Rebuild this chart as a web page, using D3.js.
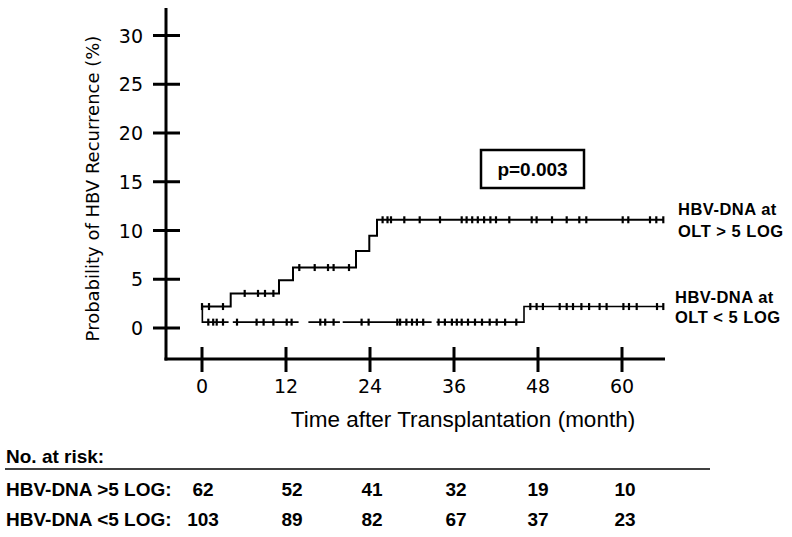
<!DOCTYPE html>
<html><head><meta charset="utf-8">
<script src="https://cdn.jsdelivr.net/npm/d3@7"></script>
<style>
html,body{margin:0;padding:0;background:#fff;}
svg{display:block;}
</style></head>
<body>
<svg id="chart" width="792" height="537"></svg>
<script>
// ---- data ----
const xTickValues = [0, 12, 24, 36, 48, 60];
const yTickValues = [0, 5, 10, 15, 20, 25, 30];

// HBV-DNA at OLT > 5 LOG : step curve (time in months, recurrence %)
const highTimes  = [0, 4.1, 11.0, 13.0, 22.0, 23.9, 25.0, 66.0];
const highValues = [2.2, 3.55, 4.9, 6.2, 7.9, 9.45, 11.1, 11.1];
const highCensor = [0, 1.0, 3.0, 6.1, 8.0, 9.0, 10.2, 13.9, 16.1, 18.0, 18.8, 21.0,
  25.8, 26.5, 27.0, 28.9, 31.1, 34.0, 37.1, 37.8, 38.6, 39.4, 40.3, 41.2, 42.0,
  43.9, 47.1, 47.8, 50.0, 52.1, 53.9, 54.9, 60.1, 60.9, 64.0, 64.9, 65.9];

// HBV-DNA at OLT < 5 LOG
const lowTimes  = [0, 0.05, 46.0, 66.0];
const lowValues = [2.2, 0.6, 2.2, 2.2];
const lowCensor = [0.9, 1.6, 2.1, 3.0, 5.0, 7.8, 8.8, 10.2, 12.1, 12.8, 16.9, 17.6,
  18.8, 22.8, 23.8, 27.9, 28.3, 29.2, 30.0, 30.7, 31.6, 33.8, 34.7, 35.7, 36.4,
  37.1, 38.0, 39.0, 40.0, 41.1, 42.1, 43.3, 44.9, 46.9, 47.8, 48.7, 51.1, 52.1,
  53.0, 54.2, 55.3, 56.8, 57.8, 60.2, 61.0, 62.1, 65.0, 65.9];
// small breaks visible in the drawn line (months)
const lowGaps = [[3.8, 4.4], [13.8, 15.2], [19.7, 20.1], [32.8, 33.5]];

const seriesLabels = [["HBV-DNA at", "OLT > 5 LOG"], ["HBV-DNA at", "OLT < 5 LOG"]];
const pValueText = "p=0.003";

const riskTitle = "No. at risk:";
const riskRowLabels = ["HBV-DNA >5 LOG:", "HBV-DNA <5 LOG:"];
const riskHigh = [62, 52, 41, 32, 19, 10];
const riskLow  = [103, 89, 82, 67, 37, 23];

const xTitle = "Time after Transplantation (month)";
const yTitle = "Probability of HBV Recurrence (%)";

// ---- drawing ----
const svg = d3.select("#chart");
const x = d3.scaleLinear().domain([0, 60]).range([202, 622]);
const y = d3.scaleLinear().domain([0, 30]).range([328, 35.5]);

const axisX0 = 166, axisYb = 359;
const tickFont = "'DejaVu Sans', Verdana, sans-serif";
const arial = "'Liberation Sans', Arial, sans-serif";

// y axis line
svg.append("line").attr("x1", axisX0).attr("x2", axisX0).attr("y1", 8).attr("y2", axisYb + 1.5)
  .attr("stroke", "#000").attr("stroke-width", 3);
// x axis line
svg.append("line").attr("x1", axisX0 - 1.5).attr("x2", 665).attr("y1", axisYb).attr("y2", axisYb)
  .attr("stroke", "#000").attr("stroke-width", 3);

// y ticks
const yt = svg.append("g");
yTickValues.forEach(v => {
  yt.append("line").attr("x1", 153).attr("x2", 180).attr("y1", y(v)).attr("y2", y(v))
    .attr("stroke", "#000").attr("stroke-width", 3);
  yt.append("text").attr("x", 143).attr("y", y(v) + 7).attr("text-anchor", "end")
    .attr("font-family", tickFont).attr("font-size", 19).text(v);
});
// x ticks
const xt = svg.append("g");
xTickValues.forEach(v => {
  xt.append("line").attr("x1", x(v)).attr("x2", x(v)).attr("y1", 347).attr("y2", 372)
    .attr("stroke", "#000").attr("stroke-width", 3);
  xt.append("text").attr("x", x(v)).attr("y", 393).attr("text-anchor", "middle")
    .attr("font-family", tickFont).attr("font-size", 19).text(v);
});

// axis titles
svg.append("text").attr("x", 463).attr("y", 427).attr("text-anchor", "middle")
  .attr("font-family", arial).attr("font-size", 22.5).text(xTitle);
svg.append("text").attr("transform", "translate(99,188.5) rotate(-90)").attr("text-anchor", "middle")
  .attr("font-family", tickFont).attr("font-size", 18).text(yTitle);

// curves
const line = d3.line().defined(d => d !== null)
  .x(d => x(d[0])).y(d => y(d[1])).curve(d3.curveStepAfter);
function stepValue(times, values, t) {
  let v = values[0];
  for (let i = 0; i < times.length; i++) if (times[i] <= t) v = values[i];
  return v;
}
function buildPoints(times, values, gaps) {
  const pts = [];
  const events = times.map((t, i) => ({t, kind: "step", v: values[i]}));
  gaps.forEach(g => {
    events.push({t: g[0], kind: "gapStart"});
    events.push({t: g[1], kind: "gapEnd"});
  });
  events.sort((a, b) => a.t - b.t);
  events.forEach(e => {
    if (e.kind === "step") pts.push([e.t, e.v]);
    else if (e.kind === "gapStart") { pts.push([e.t, stepValue(times, values, e.t)]); pts.push(null); }
    else pts.push([e.t, stepValue(times, values, e.t)]);
  });
  return pts;
}
function drawCurve(times, values, censor, gaps, w) {
  const pts = buildPoints(times, values, gaps);
  svg.append("path").attr("d", line(pts)).attr("fill", "none")
    .attr("stroke", "#000").attr("stroke-width", w);
  svg.append("g").selectAll("line").data(censor).join("line")
    .attr("x1", d => x(d)).attr("x2", d => x(d))
    .attr("y1", d => y(stepValue(times, values, d)) - 3.5)
    .attr("y2", d => y(stepValue(times, values, d)) + 3.5)
    .attr("stroke", "#000").attr("stroke-width", 2.2);
}
drawCurve(highTimes, highValues, highCensor, [], 2);
drawCurve(lowTimes, lowValues, lowCensor, lowGaps, 1.6);

// series labels
[[215, 237], [303, 323]].forEach((ys, i) => {
  seriesLabels[i].forEach((s, j) => {
    svg.append("text").attr("x", i === 0 ? 678 : 675).attr("y", ys[j]).attr("font-family", arial)
      .attr("font-weight", "bold").attr("font-size", 16.5).attr("letter-spacing", 0.5).text(s);
  });
});

// p-value box
svg.append("rect").attr("x", 481).attr("y", 150).attr("width", 103).attr("height", 38)
  .attr("fill", "#fff").attr("stroke", "#000").attr("stroke-width", 2.5);
svg.append("text").attr("x", 532.5).attr("y", 176).attr("text-anchor", "middle")
  .attr("font-family", arial).attr("font-weight", "bold").attr("font-size", 19).text(pValueText);

// risk table
svg.append("text").attr("x", 6).attr("y", 463).attr("font-family", arial)
  .attr("font-weight", "bold").attr("font-size", 19).text(riskTitle);
svg.append("line").attr("x1", 5).attr("x2", 710).attr("y1", 469).attr("y2", 469)
  .attr("stroke", "#000").attr("stroke-width", 1.5);
const riskX = [203, 292, 372, 456, 538, 625];
[[riskHigh, 496], [riskLow, 526]].forEach(([vals, yy], r) => {
  svg.append("text").attr("x", 6).attr("y", yy).attr("font-family", arial)
    .attr("font-weight", "bold").attr("font-size", 19).text(riskRowLabels[r]);
  vals.forEach((v, i) => {
    svg.append("text").attr("x", riskX[i]).attr("y", yy)
      .attr("text-anchor", "middle").attr("font-family", arial)
      .attr("font-weight", "bold").attr("font-size", 19).text(v);
  });
});
</script>
</body></html>
